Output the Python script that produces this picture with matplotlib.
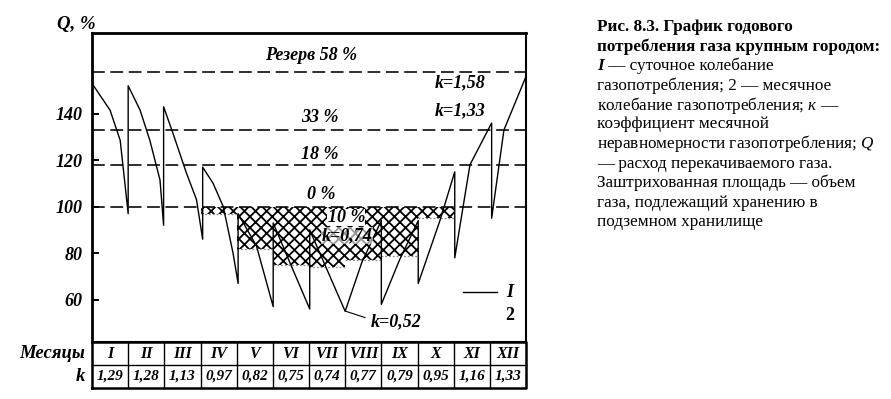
import matplotlib
matplotlib.use('Agg')
import matplotlib.pyplot as plt

plt.rcParams['hatch.linewidth'] = 1.3
plt.rcParams['hatch.color'] = 'black'

# ---------------- data ----------------
months = ['I', 'II', 'III', 'IV', 'V', 'VI', 'VII', 'VIII', 'IX', 'X', 'XI', 'XII']
k_values = [1.29, 1.28, 1.13, 0.97, 0.82, 0.75, 0.74, 0.77, 0.79, 0.95, 1.16, 1.33]
k_labels = ['1,29', '1,28', '1,13', '0,97', '0,82', '0,75', '0,74', '0,77', '0,79', '0,95', '1,16', '1,33']

level_values = [158, 133, 118, 100]
level_labels = ['Резерв 58 %', '33 %', '18 %', '0 %']

# curve 1 - daily fluctuation of gas consumption (month position, Q %)
daily_month = [0.0, 0.5, 0.78, 1.0,
               1.0, 1.33, 1.6, 1.88, 1.98,
               1.98, 2.24, 2.61, 2.89, 3.06,
               3.06, 3.35, 3.63, 3.9, 4.04,
               4.04, 4.55, 5.01,
               5.01, 5.47, 6.02,
               6.02, 7.0,
               7.0, 7.46, 8.0,
               8.0, 8.5, 9.02,
               9.02, 9.62, 10.03,
               10.03, 10.45, 11.05,
               11.05, 11.39, 12.0]
daily_q = [153, 141.5, 128.5, 97,
           152, 141.5, 128.5, 111.5, 92,
           143, 131.5, 114.5, 103, 86,
           117, 110, 100, 80, 67,
           97, 83, 57,
           93, 76, 56,
           90, 55,
           55, 76, 94,
           58, 77, 94,
           67, 94, 115,
           78, 118, 136,
           95, 133, 156]

serif = 'Liberation Serif'
bi = dict(family=serif, weight='bold', style='italic')

fig = plt.figure(figsize=(8.91, 3.99), dpi=100)
W, H = 891, 399
ax_l, ax_r, ax_t, ax_b = 92, 526, 33, 342
ax = fig.add_axes([ax_l / W, 1 - ax_b / H, (ax_r - ax_l) / W, (ax_b - ax_t) / H])
ax.set_xlim(0, 12)
ax.set_ylim(41.8, 174.7)

# hatched storage area and monthly steps (curve 2)
for i, k in enumerate(k_values):
    q = k * 100
    if q < 100:
        ax.fill_between([i, i + 1], q, 100, facecolor='white', edgecolor='black',
                        hatch='xxx', linewidth=0, zorder=1)
        ax.plot([i, i + 1], [q, q], color='0.55', lw=0.9, ls=(0, (1.5, 1.5)), zorder=2)

# reserve level lines
for v in level_values:
    ax.plot([0, 12], [v, v], color='black', lw=1.15, dashes=(8, 3.5), zorder=3)

# daily curve
ax.plot(daily_month, daily_q, color='black', lw=1.0, zorder=4)

# labels
fs = 13
ax.text(6.05, 165.2, level_labels[0], ha='center', va='center', fontsize=fs, **bi)
ax.text(6.3, 138.5, level_labels[1], ha='center', va='center', fontsize=fs, **bi)
ax.text(6.3, 122.5, level_labels[2], ha='center', va='center', fontsize=fs, **bi)
ax.text(6.33, 105.3, level_labels[3], ha='center', va='center', fontsize=fs, **bi)
ax.text(7.03, 95.3, '10 %', ha='center', va='center', fontsize=fs, zorder=5,
        bbox=dict(facecolor='white', edgecolor='none', pad=0.2), **bi)
ax.text(7.05, 87.6, 'k=0,74', ha='center', va='center', fontsize=fs, zorder=5,
        bbox=dict(facecolor='white', edgecolor='none', pad=0.1, alpha=0.6), **bi)
ax.text(8.4, 50.4, 'k=0,52', ha='center', va='center', fontsize=fs, **bi)
ax.plot([7.02, 7.55], [55.0, 52.3], color='black', lw=0.8)
ax.text(10.17, 153.2, 'k=1,58', ha='center', va='center', fontsize=fs, **bi)
ax.text(10.17, 141.2, 'k=1,33', ha='center', va='center', fontsize=fs, **bi)

# legend
ax.plot([10.26, 11.2], [63.3, 63.3], color='black', lw=1.0)
ax.text(11.56, 63.3, 'I', ha='center', va='center', fontsize=fs, **bi)
ax.text(11.56, 53.4, '2', ha='center', va='center', fontsize=fs, family=serif, weight='bold')

# axes styling
ax.set_xticks([])
ax.set_yticks([60, 80, 100, 120, 140])
ax.set_yticklabels(['60', '80', '100', '120', '140'], **bi, fontsize=13)
ax.tick_params(axis='y', direction='in', length=5, width=1.4, pad=7)
ax.spines['left'].set_linewidth(2.0)
ax.spines['top'].set_linewidth(2.0)
ax.spines['right'].set_linewidth(1.5)
ax.spines['bottom'].set_linewidth(1.5)
fig.text(57 / W, 1 - 24 / H, 'Q, %', ha='left', va='center', fontsize=13.5, **bi)

# table below
t_top, t_bot = 342, 388
tax = fig.add_axes([ax_l / W, 1 - t_bot / H, (ax_r - ax_l) / W, (t_bot - t_top) / H])
tax.set_xlim(0, 12)
tax.set_ylim(0, 2)
tax.axis('off')
for i in range(1, 12):
    tax.plot([i, i], [0, 2], color='black', lw=1.0, clip_on=False)
tax.plot([0, 12], [1, 1], color='black', lw=1.0, clip_on=False)
tax.plot([0, 12, 12, 0, 0], [0, 0, 2, 2, 0], color='black', lw=1.8, clip_on=False)
for i, (m, kl) in enumerate(zip(months, k_labels)):
    tax.text(i + 0.5, 1.5, m, ha='center', va='center', fontsize=11.5, **bi)
    tax.text(i + 0.5, 0.5, kl, ha='center', va='center', fontsize=11, **bi)
tax.text(-0.2, 1.5, 'Месяцы', ha='right', va='center', fontsize=13.5, **bi)
tax.text(-0.2, 0.5, 'k', ha='right', va='center', fontsize=13.5, **bi)

# caption
plt.rcParams['mathtext.fontset'] = 'custom'
plt.rcParams['mathtext.it'] = 'Liberation Serif:italic'
plt.rcParams['mathtext.rm'] = 'Liberation Serif'
cap_x = 597 / W
cfs = 12.3
lines = [
    ('Рис. 8.3. График годового', 'bold'),
    ('потребления газа крупным городом:', 'bold'),
    (None, None),
    ('газопотребления; 2 — месячное', 'normal'),
    ('колебание газопотребления; $\\mathit{к}$ —', 'normal'),
    ('коэффициент месячной', 'normal'),
    ('неравномерности газопотребления; $\\mathit{Q}$', 'normal'),
    ('— расход перекачиваемого газа.', 'normal'),
    ('Заштрихованная площадь — объем', 'normal'),
    ('газа, подлежащий хранению в', 'normal'),
    ('подземном хранилище', 'normal'),
]
y0 = 27
dy = 19.5
for j, (txt, wgt) in enumerate(lines):
    yy = 1 - (y0 + j * dy) / H
    if txt is None:
        fig.text(cap_x, yy, 'I', ha='left', va='center', fontsize=cfs, **bi)
        fig.text(cap_x + 7 / W, yy, ' — суточное колебание', ha='left', va='center',
                 fontsize=cfs, family=serif)
    else:
        fig.text(cap_x, yy, txt, ha='left', va='center', fontsize=cfs, family=serif, weight=wgt)

fig.savefig('out.png', dpi=100)
